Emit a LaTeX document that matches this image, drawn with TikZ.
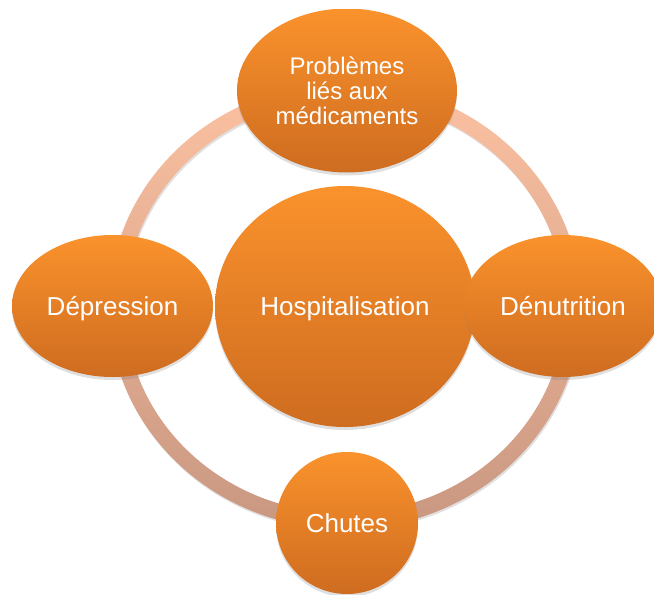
\documentclass[tikz,border=0pt]{standalone}
\usepackage{fontspec}
\setmainfont{Liberation Sans}
\usetikzlibrary{shapes.geometric,shadows}
\definecolor{orTop}{RGB}{250,146,44}
\definecolor{orBot}{RGB}{206,108,32}
\definecolor{ringTop}{RGB}{251,193,161}
\definecolor{ringBot}{RGB}{201,151,129}
\begin{document}
\begin{tikzpicture}[x=1pt,y=-1pt,
    bulle/.style={ellipse,inner sep=0pt,top color=orTop,bottom color=orBot,
      text=white,align=center,font=\fontsize{26}{27}\selectfont,
      drop shadow={opacity=.25,shadow xshift=0pt,shadow yshift=-3pt}},
    ligne/.style={bulle,text height=18pt,text depth=0pt},
    anneau/.style={top color=ringTop,bottom color=ringBot,even odd rule}]
    \useasboundingbox (0,0) rectangle (654,595);
    \clip (0,9) rectangle (654,595);
    \fill[black,opacity=.12,even odd rule,xshift=1pt,yshift=-2pt]
      (345,306) ellipse (236pt and 223pt) (345,306) ellipse (220pt and 207pt);
    \shade[anneau]
      (345,306) ellipse (236pt and 223pt) (345,306) ellipse (220pt and 207pt);
    \node[ligne,minimum width=260pt,minimum height=241pt] (hosp) at (345,306.5) {Hospitalisation};
    \node[bulle,minimum width=220pt,minimum height=164pt,
      font=\fontsize{24}{25}\selectfont] (prob) at (347,90.5) {Problèmes\\liés aux\\médicaments};
    \node[ligne,minimum width=201pt,minimum height=142pt] (depr) at (112.5,306) {Dépression};
    \node[ligne,minimum width=198pt,minimum height=142pt] (denu) at (563,306) {Dénutrition};
    \node[ligne,minimum width=142pt,minimum height=142pt] (chut) at (347,523) {Chutes};
  \end{tikzpicture}
\end{document}
